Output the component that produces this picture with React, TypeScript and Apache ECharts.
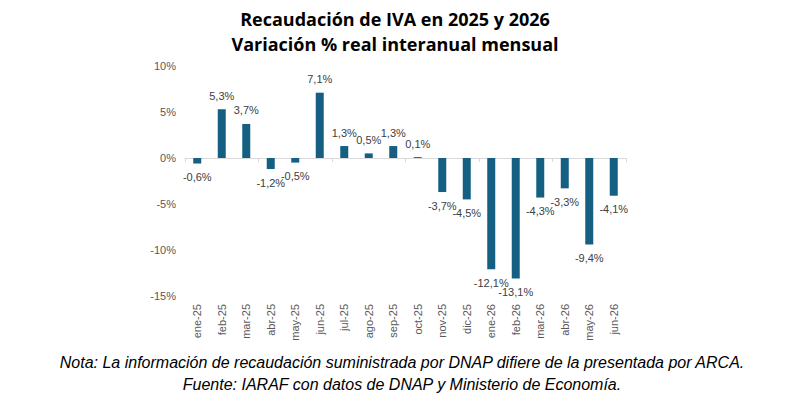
import React, { useEffect, useRef } from "react";
import * as echarts from "echarts";

const categories = ["ene-25","feb-25","mar-25","abr-25","may-25","jun-25","jul-25","ago-25","sep-25","oct-25","nov-25","dic-25","ene-26","feb-26","mar-26","abr-26","may-26","jun-26"];
const values = [-0.6, 5.3, 3.7, -1.2, -0.5, 7.1, 1.3, 0.5, 1.3, 0.1, -3.7, -4.5, -12.1, -13.1, -4.3, -3.3, -9.4, -4.1];
const yTicks = { min: -15, max: 10, interval: 5 };
const titleLines = ["Recaudación de IVA en 2025 y 2026", "Variación % real interanual mensual"];
const noteLines = [
  "Nota: La información de recaudación suministrada por DNAP difiere de la presentada por ARCA.",
  "Fuente: IARAF con datos de DNAP y Ministerio de Economía.",
];

const fmt = (v: number) => v.toFixed(1).replace(".", ",") + "%";

export default function App() {
  const ref = useRef<HTMLDivElement>(null);
  useEffect(() => {
    document.body.style.margin = "0";
    if (!ref.current) return;
    const chart = echarts.init(ref.current, undefined, { renderer: "svg" });
    chart.setOption({
      animation: false,
      backgroundColor: "#ffffff",
      title: {
        text: titleLines.join("\n"),
        left: 390,
        textAlign: "center",
        top: 1,
        textStyle: { fontFamily: "Open Sans", fontWeight: "bold", fontSize: 18, lineHeight: 25, color: "#000" },
      },
      graphic: noteLines.map((t, i) => ({
        type: "text",
        x: 402,
        y: 362 + i * 22,
        style: { text: t, font: "italic 16px 'Liberation Sans'", fill: "#000", align: "center", verticalAlign: "middle" },
      })),
      grid: { left: 185, right: 162, top: 66, bottom: 114 },
      xAxis: [
        {
          type: "category",
          data: categories,
          position: "bottom",
          axisLine: { show: false, onZero: false },
          axisTick: { show: false },
          axisLabel: { rotate: 90, margin: 8, color: "#595959", fontSize: 11, fontFamily: "Liberation Sans" },
        },
        {
          type: "category",
          data: categories,
          position: "bottom",
          axisLine: { show: true, onZero: true, lineStyle: { color: "#d9d9d9", width: 1 } },
          axisTick: { show: true, length: 4, lineStyle: { color: "#d9d9d9" } },
          axisLabel: { show: false },
        },
      ],
      yAxis: {
        type: "value",
        min: yTicks.min,
        max: yTicks.max,
        interval: yTicks.interval,
        axisLine: { show: false },
        axisTick: { show: false },
        splitLine: { show: false },
        axisLabel: { formatter: (v: number) => v + "%", color: "#595959", fontSize: 11, fontFamily: "Liberation Sans", margin: 9 },
      },
      series: [
        {
          type: "bar",
          xAxisIndex: 0,
          data: values.map((v) => ({
            value: v,
            label: { position: v >= 0 ? "top" : "bottom" },
          })),
          barWidth: 8,
          itemStyle: { color: "#156082" },
          label: {
            show: true,
            distance: 8,
            formatter: (p: any) => fmt(p.value),
            color: "#404040",
            fontSize: 11,
            fontFamily: "Liberation Sans",
          },
        },
      ],
    });
    return () => chart.dispose();
  }, []);
  return <div ref={ref} style={{ width: 788, height: 410 }} />;
}
